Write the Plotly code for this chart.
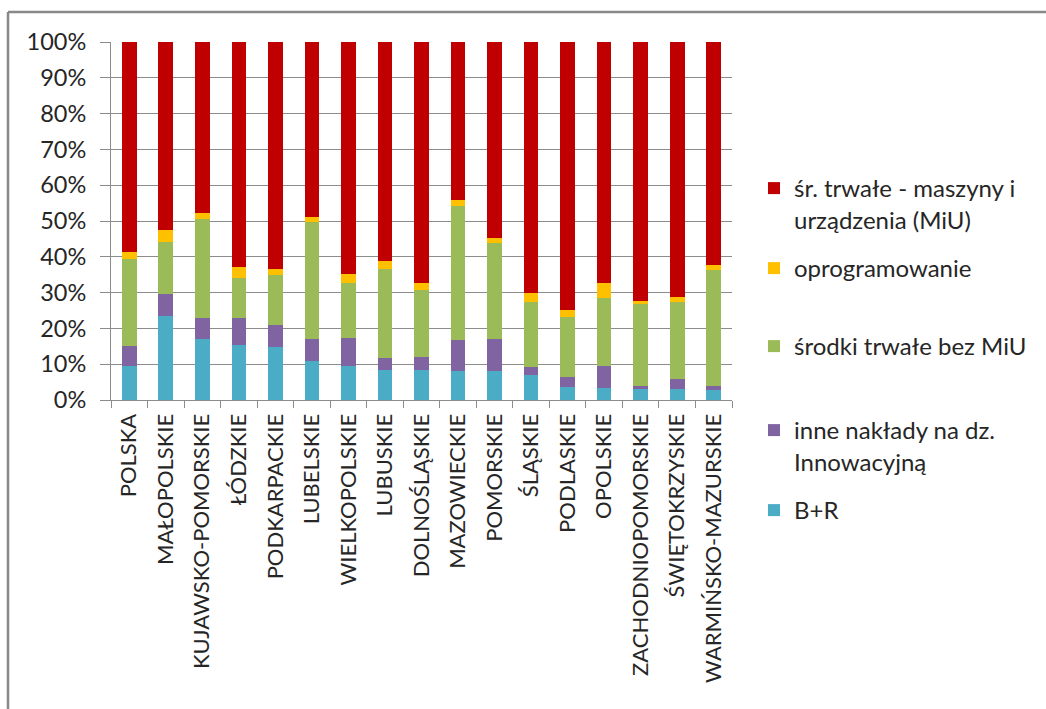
import plotly.graph_objects as go

regions = ["POLSKA", "MAŁOPOLSKIE", "KUJAWSKO-POMORSKIE", "ŁÓDZKIE", "PODKARPACKIE",
           "LUBELSKIE", "WIELKOPOLSKIE", "LUBUSKIE", "DOLNOŚLĄSKIE", "MAZOWIECKIE",
           "POMORSKIE", "ŚLĄSKIE", "PODLASKIE", "OPOLSKIE", "ZACHODNIOPOMORSKIE",
           "ŚWIĘTOKRZYSKIE", "WARMIŃSKO-MAZURSKIE"]

# shares of innovation expenditure (%)
br = [9.4, 23.4, 17.0, 15.5, 14.8, 10.9, 9.6, 8.5, 8.5, 8.1, 8.1, 7.0, 3.7, 3.4, 3.1, 3.1, 2.7]
inne = [5.8, 6.1, 5.8, 7.3, 6.1, 6.1, 7.8, 3.2, 3.5, 8.6, 8.9, 2.1, 2.6, 6.1, 0.7, 2.8, 1.1]
srodki = [24.3, 14.7, 27.8, 11.4, 14.0, 32.6, 15.4, 25.0, 18.6, 37.6, 26.9, 18.3, 16.8, 19.0, 22.9, 21.5, 32.6]
oprog = [1.8, 3.3, 1.5, 2.9, 1.8, 1.5, 2.5, 2.1, 2.2, 1.5, 1.4, 2.5, 2.1, 4.3, 1.0, 1.4, 1.4]
miu = [58.7, 52.5, 47.9, 62.9, 63.3, 48.9, 64.7, 61.2, 67.2, 44.2, 54.7, 70.1, 74.8, 67.2, 72.3, 71.2, 62.2]

series = [
    ("B+R", br, "#4BACC6", "legend5"),
    ("inne nakłady na dz.<br>Innowacyjną", inne, "#8064A2", "legend4"),
    ("środki trwałe bez MiU", srodki, "#9BBB59", "legend3"),
    ("oprogramowanie", oprog, "#FFC000", "legend2"),
    ("śr. trwałe - maszyny i<br>urządzenia (MiU)", miu, "#C00000", "legend"),
]

W, H = 1046, 709
L, R, T, B = 111, 314, 42, 309
pw, ph = W - L - R, H - T - B


def px_x(px):
    return (px - L) / pw


def px_y(py):
    return (H - B - py) / ph


FONT = "Lato"
fig = go.Figure()
for name, vals, color, leg in series:
    fig.add_trace(go.Bar(
        x=regions, y=vals, name=name, legend=leg,
        marker=dict(color=color, line=dict(width=0)),
    ))

legend_tops = {"legend": 166, "legend2": 246, "legend3": 324, "legend4": 408, "legend5": 488}
legend_cfg = {}
for key, top in legend_tops.items():
    legend_cfg[key] = dict(
        x=px_x(754), y=px_y(top), xanchor="left", yanchor="top",
        xref="paper", yref="paper", valign="top",
        bgcolor="rgba(0,0,0,0)", borderwidth=0,
        font=dict(family=FONT, size=24, color="#262626"),
        itemclick=False, itemdoubleclick=False,
    )

fig.update_layout(
    width=W, height=H,
    margin=dict(l=L, r=R, t=T, b=B, autoexpand=False),
    paper_bgcolor="white", plot_bgcolor="white",
    barmode="stack", bargap=0.6,
    showlegend=True,
    font=dict(family=FONT, size=22, color="#262626"),
    **legend_cfg,
)

fig.update_yaxes(
    range=[0, 100], dtick=10, ticksuffix="%",
    showgrid=True, gridcolor="#8c8c8c", gridwidth=1,
    showline=True, linecolor="#8c8c8c", linewidth=1,
    ticks="outside", ticklen=10, tickcolor="#8c8c8c",
    ticklabelstandoff=9,
    tickfont=dict(family=FONT, size=23.5, color="#262626"),
    zeroline=False, fixedrange=True,
)
fig.update_xaxes(
    tickangle=-90, showline=True, linecolor="#8c8c8c", linewidth=1,
    ticks="outside", ticklen=7, tickcolor="#8c8c8c", tickson="boundaries",
    ticklabelstandoff=4,
    tickfont=dict(family=FONT, size=22, color="#262626"),
    fixedrange=True,
)

# chart frame (top and left edges)
fig.add_shape(type="line", xref="paper", yref="paper",
              x0=px_x(8), x1=px_x(W + 5), y0=px_y(12), y1=px_y(12),
              line=dict(color="#888888", width=2.5))
fig.add_shape(type="line", xref="paper", yref="paper",
              x0=px_x(8), x1=px_x(8), y0=px_y(12), y1=px_y(H + 5),
              line=dict(color="#888888", width=2.5))

fig.write_html("out.html")
